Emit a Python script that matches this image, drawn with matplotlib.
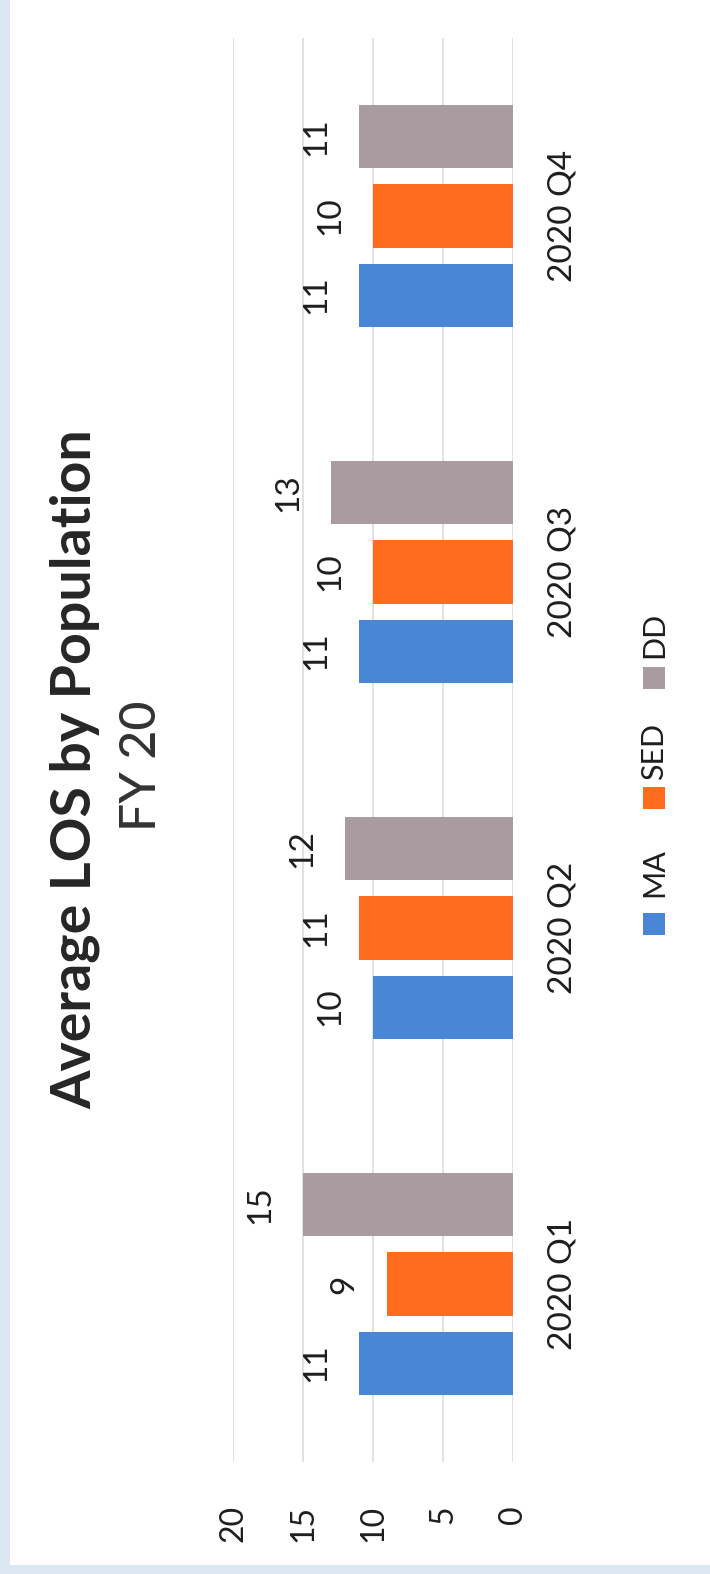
import matplotlib
matplotlib.use("Agg")
import matplotlib.pyplot as plt
import numpy as np
from matplotlib.patches import Rectangle

# Average length of stay per population, by quarter
quarters = ["2020 Q1", "2020 Q2", "2020 Q3", "2020 Q4"]
series_names = ["MA", "SED", "DD"]
ma_values = [11, 10, 11, 11]
sed_values = [9, 11, 10, 10]
dd_values = [15, 12, 13, 11]
value_ticks = [0, 5, 10, 15, 20]

series_values = [ma_values, sed_values, dd_values]
series_colors = ["#4A86D6", "#FF6C1E", "#A89CA1"]

W, H, DPI = 710, 1574, 100
plt.rcParams["font.family"] = ["Lato", "DejaVu Sans"]

fig = plt.figure(figsize=(W / DPI, H / DPI), dpi=DPI)
fig.patch.set_facecolor("white")

# pale page margin along the left and bottom edges
fig.patches.append(Rectangle((0, 0), 10 / W, 1, transform=fig.transFigure,
                             facecolor="#DDE7F3", edgecolor="none", zorder=0))
fig.patches.append(Rectangle((0, 0), 1, 9 / H, transform=fig.transFigure,
                             facecolor="#DDE7F3", edgecolor="none", zorder=0))


def fx(x):
    return x / W


def fy(y):
    return 1 - y / H


# the chart is laid out turned a quarter turn: values run right-to-left
ax = fig.add_axes([fx(233), fy(1462), (513 - 233) / W, (1462 - 38) / H])
ax.set_xlim(20, 0)
ax.set_ylim(-0.5, len(quarters) - 0.5)

pos = np.arange(len(quarters))
bar_h = 0.177
pitch = 0.222
offsets = [-pitch, 0.0, pitch]

for vals, color, off in zip(series_values, series_colors, offsets):
    ys = pos + off
    ax.barh(ys, vals, height=bar_h, color=color, edgecolor="none", zorder=2)
    for v, yy in zip(vals, ys):
        ax.annotate(f"{v:g}", xy=(v, yy), xytext=(-31, 0),
                    textcoords="offset points", rotation=90,
                    ha="center", va="center", fontsize=24, color="#1E1E1E")

ax.set_xticks(value_ticks)
ax.set_xticklabels([str(t) for t in value_ticks], rotation=90)
ax.tick_params(axis="x", length=0, pad=31, labelsize=23, labelcolor="#1E1E1E")
for lab in ax.get_xticklabels():
    lab.set_va("top")
    lab.set_ha("center")

ax.yaxis.tick_right()
ax.set_yticks(pos)
ax.set_yticklabels(quarters, rotation=90)
ax.tick_params(axis="y", length=0, pad=25, labelsize=24, labelcolor="#1E1E1E")
for lab in ax.get_yticklabels():
    lab.set_va("center")
    lab.set_ha("left")

ax.xaxis.grid(True, color="#D9D9D9", linewidth=1.1, zorder=0)
ax.yaxis.grid(False)
ax.set_axisbelow(True)
for s in ax.spines.values():
    s.set_visible(False)
ax.set_facecolor("none")

# title block
fig.text(fx(75), fy(769), "Average LOS by Population", rotation=90,
         ha="center", va="center", fontsize=40, fontweight="bold", color="#262626")
fig.text(fx(142), fy(766), "FY 20", rotation=90,
         ha="center", va="center", fontsize=36, fontweight="medium", color="#333333")

# legend entries: swatch then name, stacked bottom-to-top
legend_swatch_y = [924, 798, 678]
legend_text_y = [873, 751, 635]
for name, color, sy, ty in zip(series_names, series_colors, legend_swatch_y, legend_text_y):
    fig.patches.append(Rectangle((fx(643), fy(sy + 11)), 22 / W, 22 / H,
                                 transform=fig.transFigure, facecolor=color,
                                 edgecolor="none"))
    fig.text(fx(654), fy(ty), name, rotation=90, ha="center", va="center",
             fontsize=22, color="#1E1E1E")

fig.savefig("out.png", dpi=DPI, facecolor=fig.get_facecolor())
